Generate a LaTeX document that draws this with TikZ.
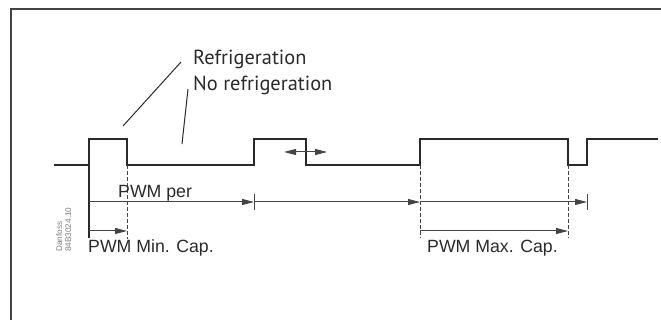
\documentclass[tikz,border=0pt]{standalone}
\usepackage{fontspec}
\setmainfont{Liberation Sans}
\newfontfamily\labelfont{PT Sans}
\usetikzlibrary{arrows.meta}
\definecolor{ink}{HTML}{2A2A2A}
\definecolor{lineg}{HTML}{444444}
\definecolor{faint}{HTML}{808080}
\begin{document}
\begin{tikzpicture}[x=1pt,y=-1pt,
  wave/.style={line width=1.7pt, draw=ink, line join=miter},
  framestyle/.style={line width=1.5pt, draw=lineg},
  dimline/.style={line width=1pt, draw=lineg},
  guide/.style={line width=0.9pt, draw=lineg, dash pattern=on 4pt off 2pt},
  tip/.style={-{Triangle[length=12pt,width=6pt]}},
  tips/.style={{Triangle[length=12pt,width=6pt]}-{Triangle[length=12pt,width=6pt]}},
  pointer/.style={line width=1pt, draw=ink},
  bigtxt/.style={inner sep=0pt, text=ink, font=\labelfont\fontsize{20.4}{24}\selectfont},
  pwmtxt/.style={inner sep=0pt, text=ink, font=\fontsize{17.7}{20}\selectfont},
  codetxt/.style={inner sep=0pt, text=faint, font=\fontsize{8.2}{9}\selectfont, rotate=90}
]
\useasboundingbox (0,0) rectangle (661,320);
% frame (left and top only)
\draw[framestyle] (11,320) -- (11,9) -- (661,9);

% waveform
\draw[wave] (54,165) -- (89,165) -- (89,139) -- (127,139) -- (127,165)
  -- (254,165) -- (254,139) -- (306,139) -- (306,165)
  -- (420,165) -- (420,139) -- (568,139) -- (568,165)
  -- (587,165) -- (587,139) -- (658,139);

% coordinates
\coordinate (s0) at (89,165);
\coordinate (s0b) at (89,238);
\coordinate (g1t) at (127,165);
\coordinate (g1b) at (127,239);
\coordinate (g2t) at (420,165);
\coordinate (g2b) at (420,238);
\coordinate (g3t) at (568,165);
\coordinate (g3b) at (568,238);
\coordinate (p0) at (89,202);
\coordinate (p1) at (254,202);
\coordinate (p2) at (420,202);
\coordinate (p3) at (587,202);
\coordinate (m0) at (89,231);
\coordinate (m1) at (127,231);
\coordinate (x0) at (420,231);
\coordinate (x1) at (568,231);
\coordinate (d0) at (284,152);
\coordinate (d1) at (327,152);
\coordinate (r1) at (123,126);
\coordinate (r2) at (182,144);

% guides
\draw[wave, line width=1.3pt] (s0) -- (s0b);
\draw[guide] (g1t) -- (g1b);
\draw[guide] (g2t) -- (g2b);
\draw[guide] (g3t) -- (g3b);

% PWM per line
\draw[dimline, tip] (p0) -- (p1);
\draw[dimline, tip] (p1) -- (p2);
\draw[dimline, tip] (p2) -- (p3);
\draw[dimline] (254,194) -- (254,210);
\draw[dimline] (587,194) -- (587,210);

% min / max cap
\draw[dimline, tip] (m0) -- (m1);
\draw[dimline, tip] (x0) -- (x1);

% double arrow
\draw[dimline, tips] (d0) -- (d1);

% texts
\node[bigtxt, anchor=base west] (ref) at (193,65) {Refrigeration};
\node[bigtxt, anchor=base west] (noref) at (193,91) {No refrigeration};
\node[pwmtxt, anchor=base west] (per) at (118,198) {PWM per};
\node[pwmtxt, anchor=base west] (mincap) at (88,253) {PWM Min. Cap.};
\node[pwmtxt, anchor=base west] (maxcap) at (427,253) {PWM Max. Cap.};
\node[codetxt, anchor=base west] (code1) at (62,252) {Danfoss};
\node[codetxt, anchor=base west] (code2) at (71,252) {84B3024.10};

% pointers
\coordinate (q1) at (181,62);
\coordinate (q2) at (188,89);
\draw[pointer] (q1) -- (r1);
\draw[pointer] (q2) -- (r2);
\end{tikzpicture}
\end{document}
